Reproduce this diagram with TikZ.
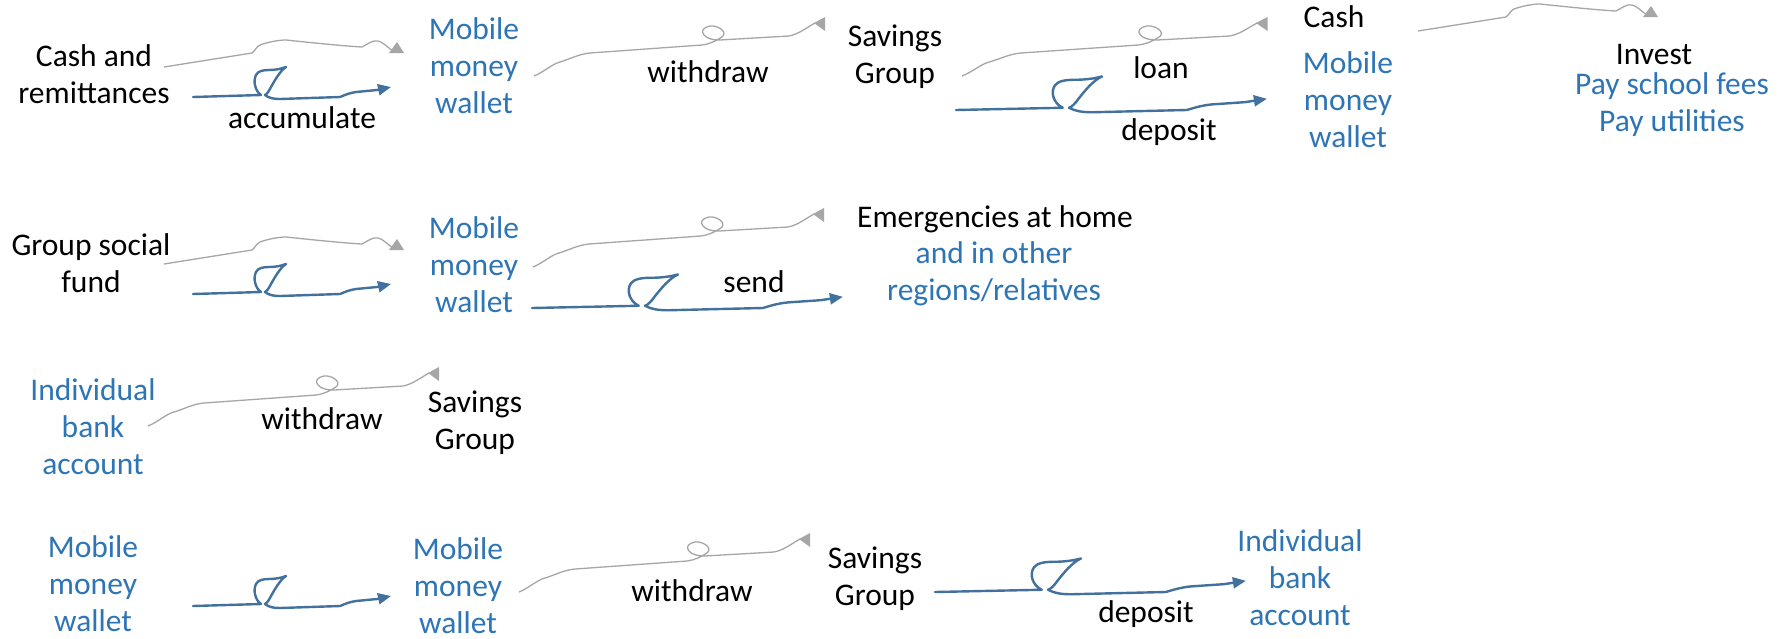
\documentclass[tikz,border=0pt]{standalone}
\usepackage{fontspec}
\setmainfont{Carlito}
\usetikzlibrary{arrows.meta}
\definecolor{txtblue}{HTML}{2E75B6}
\definecolor{inkblue}{HTML}{41719C}
\definecolor{inkgray}{HTML}{A6A6A6}
\tikzset{
  lbl/.style={font=\fontsize{31.5}{37}\selectfont, inner sep=0pt, align=center, anchor=base},
  blk/.style={lbl, text=black},
  blu/.style={lbl, text=txtblue},
  grayink/.style={draw=inkgray, line width=1.3pt, line join=round},
  grayhead/.style={fill=inkgray},
  blueink/.style={draw=inkblue, line width=2.4pt, line join=round, line cap=round, -{Triangle[length=13pt,width=11pt]}},
  grayA/.pic={
    \draw[grayink] (0,0) -- (88,-14) .. controls (91,-16) and (92,-20) .. (96,-22)
      .. controls (104,-25) and (115,-27) .. (122,-27)
      .. controls (150,-24) and (180,-21) .. (198,-20)
      .. controls (204,-23) and (208,-27) .. (214,-26)
      .. controls (219,-25) and (223,-20) .. (229,-16);
    \fill[grayhead] (225,-14) -- (233,-25) -- (240,-14) -- cycle;
  },
  grayB/.pic={
    \draw[grayink] (0,0) .. controls (10,-4) and (18,-12) .. (26,-14)
      .. controls (36,-17) and (45,-22) .. (56,-23) -- (168,-31)
      .. controls (176,-32) and (184,-36) .. (189,-40)
      .. controls (193,-45) and (183,-51) .. (176,-50)
      .. controls (170,-49) and (166,-45) .. (170,-41)
      .. controls (173,-37) and (180,-36) .. (186,-36) -- (255,-40)
      .. controls (265,-42) and (272,-48) .. (281,-53);
    \fill[grayhead] (280,-53) -- (291,-59) -- (291,-45) -- cycle;
  },
  blueS/.pic={
    \draw[blueink] (0,0) -- (68,-2)
      .. controls (62,-6) and (60,-16) .. (63,-22)
      .. controls (65,-26) and (70,-27) .. (76,-27)
      .. controls (82,-27) and (88,-28) .. (93,-30)
      .. controls (87,-26) and (82,-17) .. (78,-10)
      .. controls (76,-6) and (74,-3) .. (72,-2)
      .. controls (76,1) and (80,2) .. (87,2) -- (147,0)
      .. controls (152,-2) and (156,-4) .. (163,-5) -- (184,-7) -- (198,-10);
  },
}
\begin{document}
\begin{tikzpicture}[x=1pt, y=-1pt]
\fill[white] (0,0) rectangle (1788,638);
\useasboundingbox (0,0) rectangle (1788,638);
% ---- row 1 (anchor = baseline of the last line)
\node[blk] (n1) at (94,103) {Cash and\\remittances};
\node[blu] (n2) at (474,113) {Mobile\\money\\wallet};
\node[blk] (w1) at (708,82) {withdraw};
\node[blk] (n3) at (895,83) {Savings\\Group};
\node[blk] (ln) at (1161,78) {loan};
\node[blk] (d1) at (1169,140) {deposit};
\node[blk] (n4) at (1334,27) {Cash};
\node[blu] (n5) at (1348,147) {Mobile\\money\\wallet};
\node[blk] (n6) at (1654,64) {Invest};
\node[blu] (n7) at (1672,131) {Pay school fees\\Pay utilities};
\node[blk] (ac) at (302,128) {accumulate};
% ---- row 2
\node[blk] (n8) at (91,292) {Group social\\fund};
\node[blu] (n9) at (474,312) {Mobile\\money\\wallet};
\node[blk] (e1) at (995,227) {Emergencies at home};
\node[blu] (e2) at (994,300) {and in other\\regions/relatives};
\node[blk] (sd) at (754,292) {send};
% ---- row 3
\node[blu] (n10) at (93,474) {Individual\\bank\\account};
\node[blk] (w2) at (322,429) {withdraw};
\node[blk] (n11) at (475,449) {Savings\\Group};
% ---- row 4
\node[blu] (n12) at (93,631) {Mobile\\money\\wallet};
\node[blu] (n13) at (458,633) {Mobile\\money\\wallet};
\node[blk] (w3) at (692,601) {withdraw};
\node[blk] (n14) at (875,605) {Savings\\Group};
\node[blk] (d2) at (1146,622) {deposit};
\node[blu] (n15) at (1300,625) {Individual\\bank\\account};
% ---- connector anchors
\coordinate (g1) at (164,67);
\coordinate (b1) at (193,97);
\coordinate (g2) at (534,76);
\coordinate (g3) at (962,76);
\coordinate (b2) at (956,110);
\coordinate (g4) at (1418,31);
\coordinate (g5) at (164,264);
\coordinate (b3) at (193,294);
\coordinate (g6) at (533,267);
\coordinate (b4) at (532,308);
\coordinate (g7) at (148,426);
\coordinate (b5) at (193,606);
\coordinate (g8) at (519,592);
\coordinate (b6) at (935,592);
% ---- connectors
\pic at (g1) {grayA};
\pic at (b1) {blueS};
\pic at (g2) {grayB};
\pic[xscale=1.05] at (g3) {grayB};
\pic[xscale=1.57, yscale=1.12] at (b2) {blueS};
\pic at (g4) {grayA};
\pic at (g5) {grayA};
\pic at (b3) {blueS};
\pic at (g6) {grayB};
\pic[xscale=1.57, yscale=1.12] at (b4) {blueS};
\pic at (g7) {grayB};
\pic at (b5) {blueS};
\pic at (g8) {grayB};
\pic[xscale=1.57, yscale=1.12] at (b6) {blueS};
\end{tikzpicture}
\end{document}
